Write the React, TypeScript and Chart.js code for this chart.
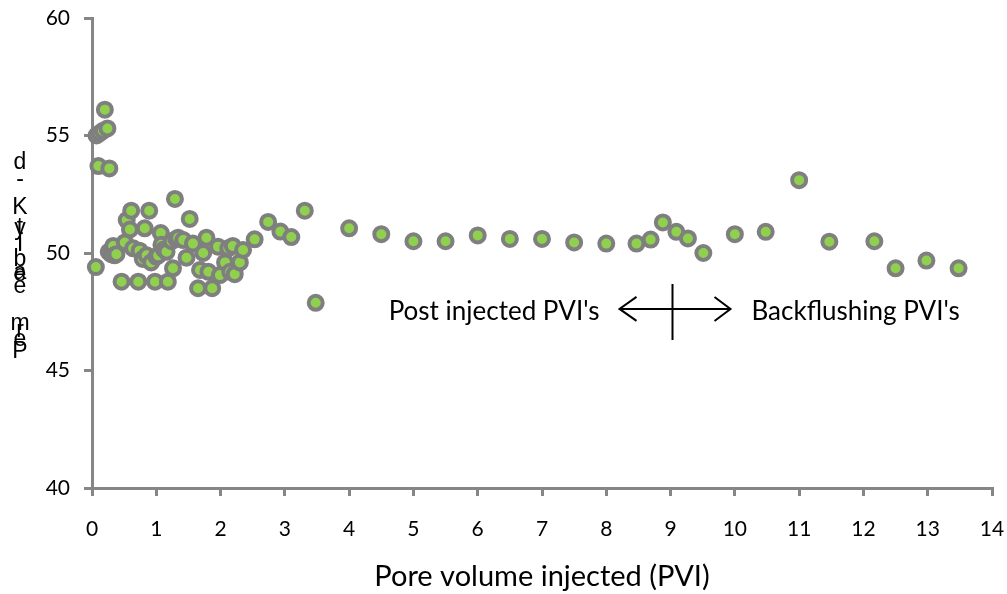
import React, { useEffect, useRef } from "react";
import { Chart, registerables } from "chart.js";

Chart.register(...registerables);

// Pore volume injected (PVI) and measured permeability for each sample
const pviX = [
  0.06, 0.07, 0.1, 0.12, 0.17, 0.2, 0.24, 0.26, 0.27, 0.3, 0.33, 0.35, 0.38, 0.46, 0.51,
  0.54, 0.59, 0.61, 0.64, 0.72, 0.74, 0.79, 0.82, 0.85, 0.89, 0.92, 0.98, 1.0, 1.03, 1.07,
  1.08, 1.12, 1.16, 1.18, 1.24, 1.26, 1.29, 1.31, 1.34, 1.42, 1.47, 1.52, 1.57, 1.65, 1.68,
  1.73, 1.78, 1.81, 1.87, 1.96, 1.99, 2.07, 2.12, 2.15, 2.19, 2.22, 2.3, 2.35, 2.53, 2.74,
  2.93, 3.1, 3.31, 3.48, 4.0, 4.5, 5.0, 5.5, 6.0, 6.5, 7.0, 7.5, 8.0, 8.47, 8.69, 8.88,
  9.09, 9.27, 9.51, 10.0, 10.48, 11.0, 11.47, 12.17, 12.5, 12.98, 13.48,
];
const permY = [
  49.4, 55.0, 53.7, 55.1, 55.2, 56.1, 55.3, 50.05, 53.6, 49.95, 50.3, 49.9, 49.95, 48.78, 50.45,
  51.4, 51.0, 51.8, 50.2, 48.78, 50.1, 49.75, 51.05, 49.9, 51.8, 49.6, 48.78, 49.85, 49.9, 50.85,
  50.35, 50.15, 50.05, 48.78, 50.5, 49.35, 52.3, 50.6, 50.65, 50.55, 49.8, 51.45, 50.4, 48.5, 49.28,
  50.0, 50.65, 49.2, 48.5, 50.27, 49.06, 49.6, 50.2, 49.2, 50.3, 49.1, 49.6, 50.13, 50.58, 51.32,
  50.91, 50.68, 51.8, 47.88, 51.05, 50.8, 50.5, 50.5, 50.75, 50.6, 50.6, 50.45, 50.4, 50.4, 50.57, 51.3,
  50.9, 50.62, 50.0, 50.8, 50.9, 53.1, 50.48, 50.5, 49.35, 49.68, 49.35,
];

const xTitle = "Pore volume injected (PVI)";
// Vertical axis caption, stacked one glyph per line
const yTitleGlyphs = ["d", "-", "K", "y", "t", "l", "i", "b", "a", "e", "e", "m", "r", "e", "P"];
const yTitleGlyphY = [163, 180, 208, 229, 228, 244, 245, 260, 273, 275, 287, 324, 331, 340, 352];

const leftNote = "Post injected PVI's";
const rightNote = "Backflushing PVI's";
const dividerPVI = 9.03;
const dividerPerm = 47.62;

const axisGrey = "#868686";
const tickFont = { family: "Lato", size: 21 };

const overlay = {
  id: "overlay",
  afterDraw(chart: any) {
    const { ctx, scales } = chart;
    const xs = scales.x;
    const ys = scales.y;
    ctx.save();
    ctx.fillStyle = "#000";

    // x-axis title
    ctx.font = "29px Lato";
    ctx.textAlign = "center";
    ctx.textBaseline = "middle";
    ctx.fillText(xTitle, (chart.chartArea.left + chart.chartArea.right) / 2, 577);

    // y-axis caption glyphs
    ctx.font = "23px 'Liberation Sans'";
    yTitleGlyphs.forEach((g, i) => ctx.fillText(g, 20, yTitleGlyphY[i]));

    // divider marker with double arrow
    const cx = xs.getPixelForValue(dividerPVI);
    const cy = ys.getPixelForValue(dividerPerm);
    ctx.strokeStyle = "#000";
    ctx.lineWidth = 2;
    ctx.beginPath();
    ctx.moveTo(cx - 53, cy);
    ctx.lineTo(cx + 58, cy);
    ctx.moveTo(cx, cy - 25);
    ctx.lineTo(cx, cy + 31);
    ctx.moveTo(cx - 36, cy - 12);
    ctx.lineTo(cx - 53, cy);
    ctx.lineTo(cx - 36, cy + 12);
    ctx.moveTo(cx + 42, cy - 12);
    ctx.lineTo(cx + 58, cy);
    ctx.lineTo(cx + 42, cy + 12);
    ctx.stroke();

    ctx.font = "26px Lato";
    ctx.textBaseline = "middle";
    ctx.textAlign = "right";
    ctx.fillText(leftNote, cx - 73, cy + 3);
    ctx.textAlign = "left";
    ctx.fillText(rightNote, cx + 79, cy + 3);
    ctx.restore();
  },
};

export default function App() {
  const canvasRef = useRef<HTMLCanvasElement | null>(null);

  useEffect(() => {
    const canvas = canvasRef.current;
    if (!canvas) return;
    const points = pviX.map((x, i) => ({ x, y: permY[i] }));
    const chart = new Chart(canvas, {
      type: "scatter",
      data: {
        datasets: [
          {
            data: points,
            backgroundColor: "#8FD14F",
            borderColor: "#7F7F7F",
            borderWidth: 4,
            pointRadius: 7,
            pointHoverRadius: 7,
            clip: false as any,
          },
        ],
      },
      options: {
        responsive: false,
        animation: false,
        events: [],
        layout: { padding: { top: 18, right: 15, left: 0, bottom: 0 } },
        plugins: { legend: { display: false }, tooltip: { enabled: false } },
        scales: {
          x: {
            type: "linear",
            min: 0,
            max: 14,
            afterFit: (s: any) => {
              s.height = 106;
              s.paddingLeft = 0;
              s.paddingRight = 0;
            },
            border: { color: axisGrey, width: 3 },
            grid: {
              drawOnChartArea: false,
              drawTicks: true,
              tickLength: 8,
              color: axisGrey,
              lineWidth: 3,
            },
            ticks: { stepSize: 1, color: "#000", font: tickFont, padding: 21, maxRotation: 0 },
          },
          y: {
            type: "linear",
            min: 40,
            max: 60,
            afterFit: (s: any) => {
              s.width = 92;
              s.paddingTop = 0;
              s.paddingBottom = 0;
            },
            border: { color: axisGrey, width: 3 },
            grid: {
              drawOnChartArea: false,
              drawTicks: true,
              tickLength: 8,
              color: axisGrey,
              lineWidth: 3,
            },
            ticks: { stepSize: 5, color: "#000", font: tickFont, padding: 14 },
          },
        },
      },
      plugins: [overlay],
    });
    return () => chart.destroy();
  }, []);

  return (
    <div style={{ position: "fixed", left: 0, top: 0, width: 1007, height: 594, background: "#fff" }}>
      <canvas ref={canvasRef} width={1007} height={594} style={{ display: "block" }} />
    </div>
  );
}
